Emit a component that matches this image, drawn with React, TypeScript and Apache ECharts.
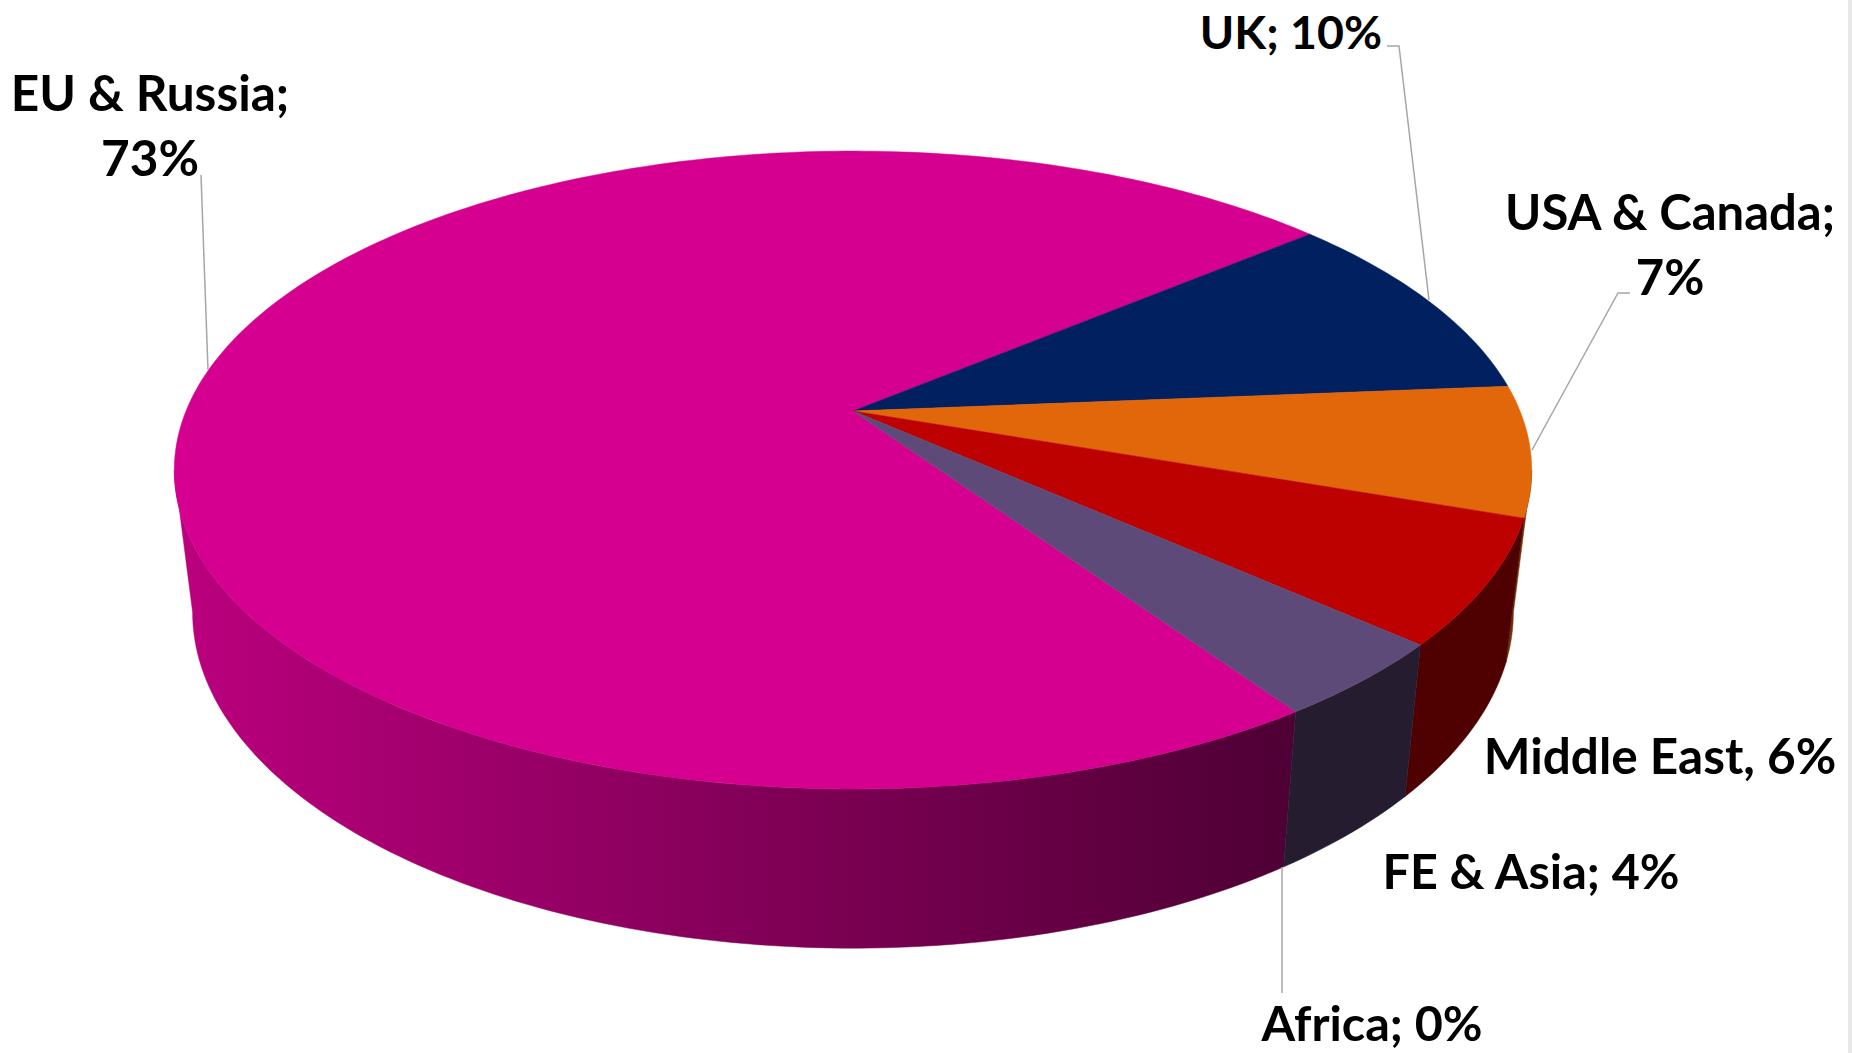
import React, { useEffect, useRef } from "react";
import * as echarts from "echarts";

const categories = ["EU & Russia", "UK", "USA & Canada", "Middle East", "FE & Asia", "Africa"];
const shareValues = [73.4, 9.8, 6.6, 6.3, 3.9, 0];
const labelTexts = ["EU & Russia;\n73%", "UK; 10%", "USA & Canada;\n7%", "Middle East, 6%", "FE & Asia; 4%", "Africa; 0%"];

// styles
const topColors = ["#d5008f", "#00205f", "#e1670a", "#bd0000", "#5e4a78", "#7f7f7f"];
const sideColors: any[] = [
  {
    type: "linear", global: true, x: 174, y: 0, x2: 1283, y2: 0,
    colorStops: [{ offset: 0, color: "#bb007e" }, { offset: 1, color: "#4f0035" }],
  },
  "#00163f", "#703403", "#4f0000", "#261c30", "#3f3f3f",
];

// layout: projection of the circular pie faces
const PERSPECTIVE = 0.185;
const topFace = { cx: 853, cy: 411, a: 667, b: 308 };
const bottomFace = { cx: 853, cy: 550, a: 649, b: 324.5 };
const FIRST_SLICE_START = -55.8;
// the wall is visible only between the two tangent angles of the projected circle
const FRONT_FROM = -(Math.asin(PERSPECTIVE) * 180) / Math.PI;
const FRONT_TO = -180 - FRONT_FROM;
const FONT = "Lato";
const labelAnchors = [
  { x: 150, y: 59, size: 49.5, lineHeight: 65 },
  { x: 1291, y: 6.5, size: 46.5, lineHeight: 48 },
  { x: 1670, y: 178, size: 49, lineHeight: 65 },
  { x: 1660, y: 730.5, size: 49.5, lineHeight: 48 },
  { x: 1531, y: 845.5, size: 48.5, lineHeight: 48 },
  { x: 1372, y: 998, size: 48.5, lineHeight: 48 },
];
const leaderLines = [
  [[201, 175], [208, 370]],
  [[1387, 46], [1399, 46], [1429, 300]],
  [[1630, 293], [1618, 293], [1532, 450]],
  [[1282, 867], [1282, 993]],
];

function project(face: typeof topFace, deg: number) {
  const t = (deg * Math.PI) / 180;
  const u = Math.cos(t);
  const v = -Math.sin(t);
  const w = 1 - PERSPECTIVE * v;
  return [face.cx + (face.a * u) / w, face.cy + (face.b * v) / w];
}

function arc(face: typeof topFace, start: number, span: number) {
  const n = Math.max(2, Math.ceil(Math.abs(span) / 1));
  const pts: number[][] = [];
  for (let i = 0; i <= n; i++) pts.push(project(face, start - (span * i) / n));
  return pts;
}

function buildSliceData() {
  const total = shareValues.reduce((s, x) => s + x, 0);
  let cursor = FIRST_SLICE_START + 0;
  return shareValues.map((value, i) => {
    const span = (value / total) * 360;
    const row = { name: categories[i], value: [cursor, span, i] };
    cursor -= span;
    return row;
  });
}

function frontPart(start: number, span: number) {
  // try the slice and its copy one turn on, keep the part facing the viewer
  for (const shift of [0, 360]) {
    const s = Math.min(start + shift, FRONT_FROM);
    const e = Math.max(start + shift - span, FRONT_TO);
    if (s > e) return [s, s - e];
  }
  return null;
}

export default function App() {
  const ref = useRef<HTMLDivElement>(null);
  useEffect(() => {
    const chart = echarts.init(ref.current!, undefined, { renderer: "svg" });
    const data = buildSliceData();
    chart.setOption({
      animation: false,
      backgroundColor: "#ffffff",
      series: [
        {
          type: "custom",
          coordinateSystem: "none",
          z: 1,
          silent: true,
          data,
          renderItem: (_p: any, api: any) => {
            const start = api.value(0), span = api.value(1), i = api.value(2);
            const part = span > 0 ? frontPart(start, span) : null;
            if (!part) return { type: "group", children: [] };
            const points = [...arc(topFace, part[0], part[1]), ...arc(bottomFace, part[0], part[1]).reverse()];
            return {
              type: "polygon",
              shape: { points },
              style: { fill: sideColors[i], stroke: sideColors[i], lineWidth: 0.5 },
            };
          },
        },
        {
          type: "custom",
          coordinateSystem: "none",
          z: 2,
          silent: true,
          data,
          renderItem: (_p: any, api: any) => {
            const start = api.value(0), span = api.value(1), i = api.value(2);
            if (span <= 0) return { type: "group", children: [] };
            const points = [[topFace.cx, topFace.cy], ...arc(topFace, start, span)];
            return {
              type: "polygon",
              shape: { points },
              style: { fill: topColors[i], stroke: topColors[i], lineWidth: 0.5 },
            };
          },
        },
      ],
      graphic: [
        {
          type: "rect",
          z: 0,
          shape: { x: 1848, y: 0, width: 4, height: 1053 },
          style: { fill: "#e8e8e8" },
        },
        ...leaderLines.map((points) => ({
          type: "polyline",
          z: 3,
          shape: { points },
          style: { fill: "none", stroke: "#a6a6a6", lineWidth: 1.5 },
        })),
        ...labelTexts.map((text, i) => ({
          type: "text",
          z: 4,
          x: labelAnchors[i].x,
          y: labelAnchors[i].y,
          style: {
            text,
            fill: "#000000",
            font: `bold ${labelAnchors[i].size}px ${FONT}`,
            lineHeight: labelAnchors[i].lineHeight,
            align: "center",
            verticalAlign: "top",
          },
        })),
      ],
    });
    return () => chart.dispose();
  }, []);
  return <div ref={ref} style={{ position: "fixed", left: 0, top: 0, width: 1852, height: 1053 }} />;
}
